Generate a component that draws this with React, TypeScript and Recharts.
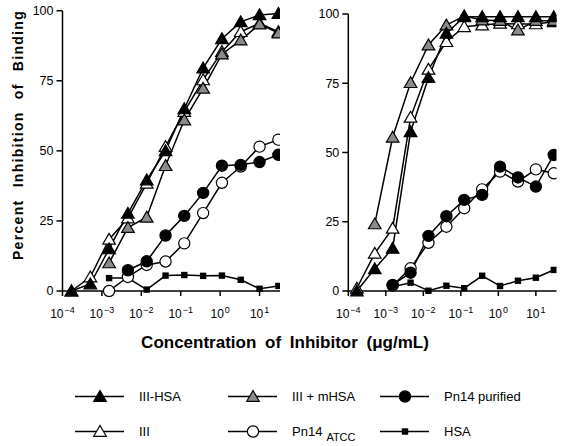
import React from "react";
import { LineChart, Line, XAxis, YAxis } from "recharts";

// Inhibitor concentrations (µg/mL), 3-fold dilution points, highest first
const concentrations = [30, 10, 3.33, 1.11, 0.37, 0.123, 0.0412, 0.0137, 0.00457, 0.00152, 0.000508, 0.000169];

const xTicks = [0.0001, 0.001, 0.01, 0.1, 1, 10];
const xTickExponents = ["\u22124", "\u22123", "\u22122", "\u22121", "0", "1"];
const yTicks = [0, 25, 50, 75, 100];

// Left panel values (% inhibition), aligned with concentrations
const leftIIIHSA = [99, 98.5, 96, 90, 79.5, 65, 50, 39.6, 27.7, 15, 2.5, 0];
const leftIII = [92.5, 95.5, 92.5, 85.4, 75.3, 64, 51.5, 38.4, 26, 18.4, 5, 0];
const leftIIImHSA = [92, 95.2, 89.5, 84.5, 72.3, 61, 44.7, 26.3, 22.6, 10, null, null];
const leftPn14Purified = [48.6, 46, 45, 44.7, 35, 26.8, 19.8, 10.6, 7.4, null, null, null];
const leftPn14ATCC = [54, 51.5, 44.4, 38.6, 27.8, 17, 10.5, 9.3, 5, 0, null, null];
const leftHSA = [1.8, 0.8, 4, 5.5, 5.4, 5.7, 5.5, 0.5, 4.6, 4.6, null, null];

// Right panel values
const rightIIIHSA = [99, 99, 99, 99, 99, 99, 93, 77, 57.5, 15.4, 8, 0];
const rightIII = [97.2, 96.4, 96.4, 96.6, 96, 95.4, 90, 80, 62.7, 22.6, 13.6, 1];
const rightIIImHSA = [97.6, 97.6, 94.2, 97.6, 97.8, 99.3, 96, 88.8, 75.2, 55.5, 24.2, null];
const rightPn14Purified = [49.1, 37.7, 41, 44.9, 34.7, 32.9, 27, 19.9, 6.6, 2.2, null, null];
const rightPn14ATCC = [42.5, 43.9, 39.5, 43.1, 36.7, 29.9, 23.2, 17.4, 8.2, 2, null, null];
const rightHSA = [7.6, 4.8, 3.7, 1.8, 5.5, 1, 1.9, 0.1, 3, 1.5, null, null];

const FONT = "'Liberation Sans', Arial, Helvetica, sans-serif";
const GRAY = "#8a8a8a";

type Shape = "triangle" | "circle" | "square";
interface SeriesStyle { key: string; shape: Shape; fill: string; }

const styles: Record<string, SeriesStyle> = {
  IIIHSA: { key: "IIIHSA", shape: "triangle", fill: "#000" },
  III: { key: "III", shape: "triangle", fill: "#fff" },
  IIImHSA: { key: "IIImHSA", shape: "triangle", fill: GRAY },
  Pn14Purified: { key: "Pn14Purified", shape: "circle", fill: "#000" },
  Pn14ATCC: { key: "Pn14ATCC", shape: "circle", fill: "#fff" },
  HSA: { key: "HSA", shape: "square", fill: "#000" },
};

function toPoints(values: (number | null)[]) {
  const out: { x: number; y: number }[] = [];
  values.forEach((v, i) => {
    if (v !== null) out.push({ x: concentrations[i], y: v });
  });
  return out;
}

function Marker({ cx, cy, shape, fill }: { cx: number; cy: number; shape: Shape; fill: string }) {
  if (shape === "triangle") {
    return (
      <polygon
        points={`${cx},${cy - 6} ${cx - 6.3},${cy + 4.8} ${cx + 6.3},${cy + 4.8}`}
        fill={fill}
        stroke="#000"
        strokeWidth={1.2}
        strokeLinejoin="miter"
      />
    );
  }
  if (shape === "circle") {
    return <circle cx={cx} cy={cy} r={5.6} fill={fill} stroke="#000" strokeWidth={1.2} />;
  }
  return <rect x={cx - 3.2} y={cy - 3.2} width={6.4} height={6.4} fill={fill} />;
}

function renderXTick(props: any) {
  const { x, y, index } = props;
  return (
    <text x={x} y={y + 20} textAnchor="middle" fontFamily={FONT} fontSize={12} fill="#000">
      10
      <tspan dx={1} dy={-5.5} fontSize={9}>{xTickExponents[index]}</tspan>
    </text>
  );
}

function seriesLines(panel: string, sets: { style: SeriesStyle; values: (number | null)[] }[]) {
  return sets.map(({ style, values }) => (
    <Line
      key={`${panel}-${style.key}`}
      data={toPoints(values)}
      dataKey="y"
      type="linear"
      stroke="#000"
      strokeWidth={1.5}
      isAnimationActive={false}
      activeDot={false}
      dot={(p: any) => (
        <Marker key={`${panel}-${style.key}-${p.index}`} cx={p.cx} cy={p.cy} shape={style.shape} fill={style.fill} />
      )}
    />
  ));
}

function Panel({ width, height, margin, yWidth, xMax, sets, panel }: any) {
  return (
    <LineChart width={width} height={height} margin={margin}>
      <XAxis
        dataKey="x"
        type="number"
        scale="log"
        domain={[0.0001, xMax]}
        allowDataOverflow
        ticks={xTicks}
        interval={0}
        height={30}
        tickSize={5}
        axisLine={{ stroke: "#000", strokeWidth: 1.5 }}
        tickLine={{ stroke: "#000", strokeWidth: 1.5 }}
        tick={renderXTick}
      />
      <YAxis
        type="number"
        domain={[0, 100]}
        ticks={yTicks}
        interval={0}
        width={yWidth}
        tickSize={6}
        tickMargin={3}
        axisLine={{ stroke: "#000", strokeWidth: 1.5 }}
        tickLine={{ stroke: "#000", strokeWidth: 1.5 }}
        tick={{ fill: "#000", fontSize: 12.5, fontFamily: FONT }}
      />
      {seriesLines(panel, sets)}
    </LineChart>
  );
}

const legendItems = [
  { label: "III-HSA", style: styles.IIIHSA, col: 0, row: 0 },
  { label: "III + mHSA", style: styles.IIImHSA, col: 1, row: 0 },
  { label: "Pn14 purified", style: styles.Pn14Purified, col: 2, row: 0 },
  { label: "III", style: styles.III, col: 0, row: 1 },
  { label: "Pn14", sub: "ATCC", style: styles.Pn14ATCC, col: 1, row: 1 },
  { label: "HSA", style: styles.HSA, col: 2, row: 1 },
];
const legendColX = [75, 228, 380];
const legendRowY = [396.5, 431.5];

export default function App() {
  const leftSets = [
    { style: styles.HSA, values: leftHSA },
    { style: styles.Pn14ATCC, values: leftPn14ATCC },
    { style: styles.Pn14Purified, values: leftPn14Purified },
    { style: styles.III, values: leftIII },
    { style: styles.IIImHSA, values: leftIIImHSA },
    { style: styles.IIIHSA, values: leftIIIHSA },
  ];
  const rightSets = [
    { style: styles.HSA, values: rightHSA },
    { style: styles.Pn14ATCC, values: rightPn14ATCC },
    { style: styles.Pn14Purified, values: rightPn14Purified },
    { style: styles.III, values: rightIII },
    { style: styles.IIImHSA, values: rightIIImHSA },
    { style: styles.IIIHSA, values: rightIIIHSA },
  ];
  return (
    <div style={{ position: "absolute", left: 0, top: 0, width: 572, height: 446, background: "#fff", fontFamily: FONT }}>
      <div style={{ position: "absolute", left: 0, top: 0 }}>
        <Panel
          panel="L"
          width={290}
          height={330}
          margin={{ top: 10.7, right: 10, bottom: 9, left: 0 }}
          yWidth={62.5}
          xMax={33}
          sets={leftSets}
        />
      </div>
      <div style={{ position: "absolute", left: 286, top: 0 }}>
        <Panel
          panel="R"
          width={286}
          height={330}
          margin={{ top: 14, right: 15.5, bottom: 9, left: 0 }}
          yWidth={62.3}
          xMax={35.5}
          sets={rightSets}
        />
      </div>
      <svg width={572} height={446} style={{ position: "absolute", left: 0, top: 0, pointerEvents: "none" }}>
        <text
          x={22.5}
          y={135}
          transform="rotate(-90, 22.5, 135)"
          textAnchor="middle"
          fontFamily={FONT}
          fontWeight="bold"
          fontSize={14}
          letterSpacing={1.3}
          wordSpacing={7}
          fill="#000"
        >
          Percent Inhibition of Binding
        </text>
        <text
          x={285}
          y={348}
          textAnchor="middle"
          fontFamily={FONT}
          fontWeight="bold"
          fontSize={17}
          wordSpacing={4}
          fill="#000"
        >
          Concentration of Inhibitor (μg/mL)
        </text>
        {legendItems.map((it) => {
          const x0 = legendColX[it.col];
          const y = legendRowY[it.row];
          return (
            <g key={it.label + it.row}>
              <line x1={x0} x2={x0 + 49} y1={y} y2={y} stroke="#000" strokeWidth={1.5} />
              <Marker cx={x0 + 25} cy={y} shape={it.style.shape} fill={it.style.fill} />
              <text x={x0 + 64} y={y + 4.5} fontFamily={FONT} fontSize={13} fill="#000">
                {it.label}
                {it.sub ? (
                  <tspan dx={4} dy={5} fontSize={11}>{it.sub}</tspan>
                ) : null}
              </text>
            </g>
          );
        })}
      </svg>
    </div>
  );
}
